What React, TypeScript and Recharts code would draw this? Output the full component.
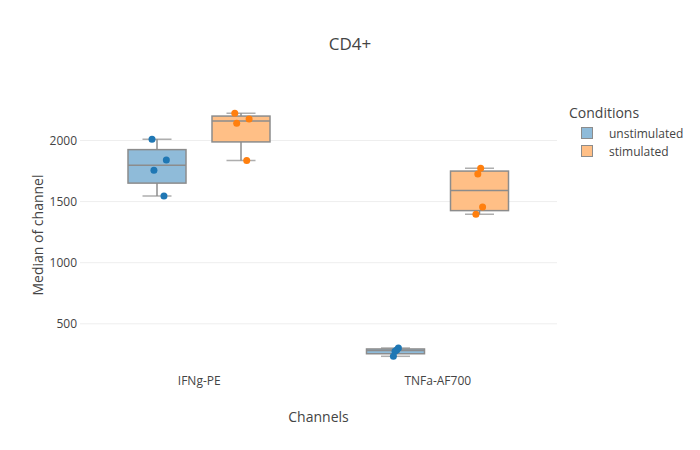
import React from "react";
import {
    ComposedChart,
    Bar,
    Scatter,
    XAxis,
    YAxis,
    CartesianGrid,
    Legend,
} from "recharts";

const channels = ["IFNg-PE", "TNFa-AF700"];
const conditions = ["unstimulated", "stimulated"];

// raw medians per sample, one list per channel
const unstimulatedValues = [
    [2010, 1840, 1756, 1546],
    [302, 286, 276, 234],
];
const stimulatedValues = [
    [2223, 2176, 2141, 1835],
    [1773, 1726, 1456, 1396],
];

// horizontal jitter of each point, in category widths from the category centre
const unstimulatedJitter = [
    [-0.198, -0.138, -0.19, -0.148],
    [-0.165, -0.172, -0.179, -0.186],
];
const stimulatedJitter = [
    [0.149, 0.209, 0.157, 0.199],
    [0.18, 0.168, 0.188, 0.16],
];

const yTicks = [500, 1000, 1500, 2000];

const FONT = "'Open Sans', verdana, arial, sans-serif";
const TEXT = "#444";
const COLORS: Record<string, { point: string; fill: string }> = {
    unstimulated: { point: "#1f77b4", fill: "#8fbbd9" },
    stimulated: { point: "#ff7f0e", fill: "#ffbf86" },
};

interface BoxStats {
    min: number;
    q1: number;
    median: number;
    q3: number;
    max: number;
}

function medianOf(sorted: number[]): number {
    const n = sorted.length;
    const mid = Math.floor(n / 2);
    return n % 2 ? sorted[mid] : (sorted[mid - 1] + sorted[mid]) / 2;
}

// "exclusive" quartiles, same as plotly's default for boxes
function statsOf(values: number[]): BoxStats {
    const s = [...values].sort((a, b) => a - b);
    const half = Math.floor(s.length / 2);
    return {
        min: s[0],
        q1: medianOf(s.slice(0, half)),
        median: medianOf(s),
        q3: medianOf(s.slice(s.length % 2 ? half + 1 : half)),
        max: s[s.length - 1],
    };
}

const boxRows = channels.map((channel, i) => ({
    channel,
    unstimulated: statsOf(unstimulatedValues[i]),
    stimulated: statsOf(stimulatedValues[i]),
}));

function pointsFor(values: number[][], jitter: number[][]) {
    return values.flatMap((list, i) =>
        list.map((y, j) => ({ x: i + 0.5 + jitter[i][j], y }))
    );
}

const unstimulatedPoints = pointsFor(unstimulatedValues, unstimulatedJitter);
const stimulatedPoints = pointsFor(stimulatedValues, stimulatedJitter);

function boxRange(key: string) {
    return (r: any) => {
        const s = r?.[key] as BoxStats | undefined;
        return s ? [s.q1, s.q3] : undefined;
    };
}

interface BoxShapeProps {
    x?: number;
    y?: number;
    width?: number;
    height?: number;
    fill?: string;
    stats?: BoxStats;
}

function BoxShape({ x = 0, y = 0, width = 0, height = 0, fill, stats }: BoxShapeProps) {
    if (!stats) return null;
    const span = stats.q3 - stats.q1;
    const pxPerUnit = span > 0 ? height / span : 0;
    const yOf = (v: number) => y + (stats.q3 - v) * pxPerUnit;
    const cx = x + width / 2;
    const cap = width / 4;
    const line = { stroke: "#8c8c8c", strokeWidth: 1.5 };

    return (
        <g>
            <line x1={cx} x2={cx} y1={yOf(stats.max)} y2={y} {...line} />
            <line x1={cx} x2={cx} y1={y + height} y2={yOf(stats.min)} {...line} />
            <line x1={cx - cap} x2={cx + cap} y1={yOf(stats.max)} y2={yOf(stats.max)} {...line} strokeOpacity={0.7} />
            <line x1={cx - cap} x2={cx + cap} y1={yOf(stats.min)} y2={yOf(stats.min)} {...line} strokeOpacity={0.7} />
            <rect x={x} y={y} width={width} height={height} fill={fill} {...line} />
            <line x1={x} x2={x + width} y1={yOf(stats.median)} y2={yOf(stats.median)} {...line} />
        </g>
    );
}

interface LegendItem {
    value: string;
    color: string;
}

function ConditionsLegend({ payload }: { payload?: LegendItem[] }) {
    const items = (payload ?? [])
        .filter((p) => conditions.includes(p.value))
        .sort((a, b) => conditions.indexOf(a.value) - conditions.indexOf(b.value));
    return (
        <div style={{ fontFamily: FONT, color: TEXT }}>
            <div style={{ fontSize: 14, lineHeight: "18px", paddingLeft: 4 }}>
                Conditions
            </div>
            <div style={{ height: 2 }} />
            {items.map((item) => (
                <div
                    key={item.value}
                    style={{ display: "flex", alignItems: "center", height: 18 }}
                >
                    <span
                        style={{
                            display: "inline-block",
                            width: 10,
                            height: 10,
                            marginLeft: 16,
                            background: COLORS[item.value].fill,
                            border: "1px solid #8c8c8c",
                        }}
                    />
                    <span style={{ fontSize: 12, marginLeft: 16 }}>{item.value}</span>
                </div>
            ))}
        </div>
    );
}

export default function App() {
    return (
        <div
            style={{
                position: "absolute",
                left: 0,
                top: 0,
                width: 700,
                height: 450,
                background: "#fff",
                fontFamily: FONT,
            }}
        >
            <div
                style={{
                    position: "absolute",
                    left: 0,
                    top: 33,
                    width: 700,
                    textAlign: "center",
                    fontSize: 17,
                    lineHeight: "22px",
                    color: TEXT,
                }}
            >
                CD4+
            </div>
            <ComposedChart
                width={700}
                height={450}
                data={boxRows}
                margin={{ top: 100, right: 143, bottom: 0, left: 0 }}
                barGap={26}
            >
                <CartesianGrid
                    xAxisId="cat"
                    vertical={false}
                    horizontalValues={yTicks}
                    stroke="#eeeeee"
                />
                <XAxis
                    xAxisId="cat"
                    dataKey="channel"
                    height={80}
                    tickSize={0}
                    tickMargin={6}
                    axisLine={false}
                    tick={{ fontSize: 12, fill: TEXT }}
                    label={{
                        value: "Channels",
                        position: "insideBottom",
                        offset: 28,
                        fontSize: 14,
                        fill: TEXT,
                    }}
                />
                <XAxis
                    xAxisId="num"
                    dataKey="x"
                    type="number"
                    domain={[0, 2]}
                    allowDataOverflow
                    hide
                />
                <YAxis
                    type="number"
                    domain={[122, 2331]}
                    ticks={yTicks}
                    allowDataOverflow
                    width={80}
                    tickSize={0}
                    tickMargin={3}
                    axisLine={false}
                    tick={{ fontSize: 12, fill: TEXT }}
                    label={{
                        value: "Median of channel",
                        angle: -90,
                        position: "center",
                        dx: -2,
                        fontSize: 14,
                        fill: TEXT,
                    }}
                />
                <Legend
                    layout="vertical"
                    align="center"
                    verticalAlign="middle"
                    wrapperStyle={{ left: 565, top: 104, width: 135 }}
                    content={(props: any) => <ConditionsLegend payload={props.payload} />}
                />
                <Bar
                    xAxisId="cat"
                    name="unstimulated"
                    dataKey={boxRange("unstimulated")}
                    fill={COLORS.unstimulated.fill}
                    barSize={58}
                    isAnimationActive={false}
                    shape={(p: any) => <BoxShape {...p} stats={p.payload?.unstimulated} />}
                />
                <Bar
                    xAxisId="cat"
                    name="stimulated"
                    dataKey={boxRange("stimulated")}
                    fill={COLORS.stimulated.fill}
                    barSize={58}
                    isAnimationActive={false}
                    shape={(p: any) => <BoxShape {...p} stats={p.payload?.stimulated} />}
                />
                <Scatter
                    xAxisId="num"
                    name="unstimulated points"
                    data={unstimulatedPoints}
                    dataKey="y"
                    legendType="none"
                    isAnimationActive={false}
                    shape={(p: any) => (
                        <circle cx={p.cx} cy={p.cy} r={3.5} fill={COLORS.unstimulated.point} />
                    )}
                />
                <Scatter
                    xAxisId="num"
                    name="stimulated points"
                    data={stimulatedPoints}
                    dataKey="y"
                    legendType="none"
                    isAnimationActive={false}
                    shape={(p: any) => (
                        <circle cx={p.cx} cy={p.cy} r={3.5} fill={COLORS.stimulated.point} />
                    )}
                />
            </ComposedChart>
        </div>
    );
}
